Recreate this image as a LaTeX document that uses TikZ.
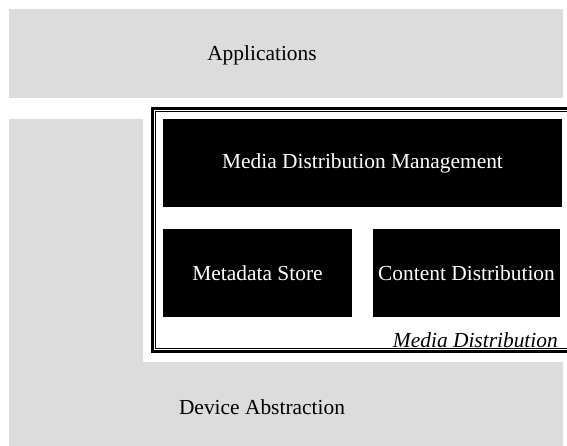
\documentclass[tikz,border=0pt]{standalone}
\usepackage{fontspec}
\setmainfont{Liberation Serif}
\usetikzlibrary{positioning}
\definecolor{layergray}{RGB}{220,220,220}

\begin{document}
\begin{tikzpicture}[x=1bp, y=-1bp,
    layer/.style ={fill=layergray, draw=none, inner sep=0pt},
    component/.style ={fill=black, text=white, inner sep=0pt, minimum height=88bp,
                       font=\fontsize{21.5}{25}\selectfont},
    caption/.style ={inner sep=0pt, font=\fontsize{21.5}{25}\selectfont}]
   \useasboundingbox (0,0) rectangle (567,446);
   \clip (0,0) rectangle (567,446);

   % layers
   \node[layer, anchor=north west, minimum width=554bp, minimum height=89bp] (apps) at (9,9) {};
   \node[caption] (appstext) at (262,55) {Applications};
   \fill[layergray] (9,119) -- (143,119) -- (143,362) -- (563,362) -- (563,446) -- (9,446) -- cycle;
   \node[caption] (devtext) at (262,407) {Device Abstraction};

   % media distribution frame
   \draw[line width=2.5bp] (575,108.5) -| (152.5,351.5) -- (575,351.5);
   \draw[line width=0.8bp] (575,111.5) -| (155.5,348.5) -- (575,348.5);
   \node[component, minimum width=399bp] (mdm)  at (362.5,163) {Media Distribution Management};
   \node[component, minimum width=189bp] (meta) at (257.5,273) {Metadata Store};
   \node[component, minimum width=187bp] (cont) at (466.5,273) {Content Distribution};
   \node[caption, anchor=east] (mdtext) at (558,340) {\itshape Media Distribution};
\end{tikzpicture}
\end{document}
